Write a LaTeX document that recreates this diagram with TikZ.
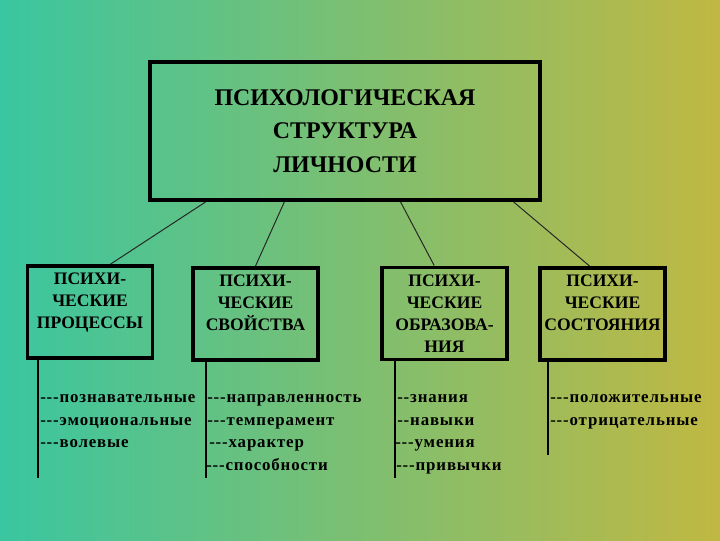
\documentclass[tikz,border=0pt]{standalone}
\usepackage{fontspec}
\newfontfamily\rufont{Liberation Serif}
\usetikzlibrary{calc}
\definecolor{bgteal}{RGB}{58,198,160}
\definecolor{bggreen}{RGB}{96,194,58}
\definecolor{bgolive}{RGB}{192,184,66}
\tikzset{
  boxline/.style={draw=black, line width=2.8pt},
  headbox/.style={boxline, minimum width=9.75cm, minimum height=3.45cm, align=center,
    font=\rufont\bfseries\fontsize{17}{23.7}\selectfont},
  pbox/.style={boxline, minimum width=3.125cm, minimum height=2.3cm, align=center,
    font=\rufont\bfseries\fontsize{12.5}{15.6}\selectfont},
  listitem/.style={anchor=base west, inner sep=0pt,
    font=\rufont\bfseries\fontsize{12}{14}\selectfont\addfontfeature{LetterSpace=5}},
  link/.style={line width=0.7pt, black!85},
  stem/.style={line width=0.9pt, black}
}
\begin{document}
\begin{tikzpicture}[x=0.025cm, y=-0.025cm]
  % Background
  \shade[left color=bgteal, middle color=bggreen, right color=bgolive] (0,0) rectangle (720,540);
  \useasboundingbox (0,0) rectangle (720,540);
  % Head
  \node[headbox] (head) at (345,131) {ПСИХОЛОГИЧЕСКАЯ\\СТРУКТУРА\\ЛИЧНОСТИ};
  % Parts
  \node[pbox] (proc) at (90,312) {ПСИХИ-\\ЧЕСКИЕ\\ПРОЦЕССЫ\\\mbox{}};
  \node[pbox] (prop) at (255.5,314) {ПСИХИ-\\ЧЕСКИЕ\\СВОЙСТВА\\\mbox{}};
  \node[pbox] (form) at (444.5,313.5) {ПСИХИ-\\ЧЕСКИЕ\\ОБРАЗОВА-\\НИЯ};
  \node[pbox] (stat) at (602.5,314) {ПСИХИ-\\ЧЕСКИЕ\\СОСТОЯНИЯ\\\mbox{}};
  % Links
  \draw[link] ($(head.south west)!0.146!(head.south east)$) -- ($(proc.north west)!0.66!(proc.north east)$);
  \draw[link] ($(head.south west)!0.346!(head.south east)$) -- (prop.north);
  \draw[link] ($(head.south west)!0.641!(head.south east)$) -- ($(form.north west)!0.42!(form.north east)$);
  \draw[link] ($(head.south west)!0.928!(head.south east)$) -- ($(stat.north west)!0.4!(stat.north east)$);
  % Stems
  \coordinate (procend) at (38,478);
  \coordinate (propend) at (206,478);
  \coordinate (formend) at (395,478);
  \coordinate (statend) at (548,455);
  \draw[stem] (proc.south -| procend) -- (procend);
  \draw[stem] (prop.south -| propend) -- (propend);
  \draw[stem] (form.south -| formend) -- (formend);
  \draw[stem] (stat.south -| statend) -- (statend);
  % Lists
  \node[listitem] (proc1) at (40,402) {---познавательные};
  \node[listitem] (proc2) at (40,425) {---эмоциональные};
  \node[listitem] (proc3) at (40,447) {---волевые};
  \node[listitem] (prop1) at (207,402) {---направленность};
  \node[listitem] (prop2) at (207,425) {---темперамент};
  \node[listitem] (prop3) at (209,447) {---характер};
  \node[listitem] (prop4) at (206,470) {---способности};
  \node[listitem] (form1) at (397,402) {--знания};
  \node[listitem] (form2) at (397,425) {--навыки};
  \node[listitem] (form3) at (395,447) {---умения};
  \node[listitem] (form4) at (396,470) {---привычки};
  \node[listitem] (stat1) at (550,402) {---положительные};
  \node[listitem] (stat2) at (550,425) {---отрицательные};
\end{tikzpicture}
\end{document}
